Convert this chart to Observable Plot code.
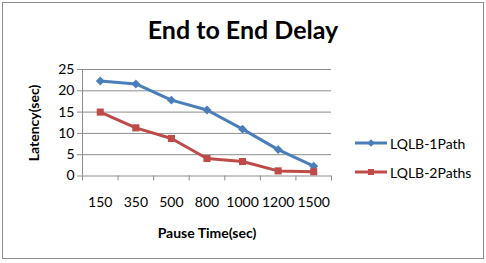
<!DOCTYPE html>
<html><head><meta charset="utf-8">
<script src="https://cdn.jsdelivr.net/npm/d3@7"></script>
<script src="https://cdn.jsdelivr.net/npm/@observablehq/plot@0.6"></script>
<style>
html,body{margin:0;padding:0;background:#fff;}
#wrap{position:relative;width:486px;height:263px;overflow:hidden;font-family:Lato,sans-serif;color:#000;}
#frame{position:absolute;left:2px;top:2px;width:480px;height:255px;border:1px solid #8c8c8c;pointer-events:none;}
.t{position:absolute;white-space:nowrap;}
#title{left:0;width:486px;top:14px;text-align:center;font-weight:bold;font-size:25px;}
#xt{left:156px;width:102px;top:224px;text-align:center;font-weight:bold;font-size:14px;}
#yt{left:33px;top:123px;transform:translate(-50%,-50%) rotate(-90deg);font-weight:bold;font-size:14px;}
.leg{position:absolute;left:355px;font-size:14px;display:flex;align-items:center;}
.leg svg{margin-right:3px;}
</style></head>
<body><div id="wrap"></div>
<script>
const categories = ["150","350","500","800","1000","1200","1500"];
const seriesNames = ["LQLB-1Path","LQLB-2Paths"];
const lqlb1Path = [22.3, 21.6, 17.8, 15.5, 11.0, 6.2, 2.3];
const lqlb2Paths = [15.0, 11.3, 8.8, 4.1, 3.4, 1.2, 1.0];
const yTicks = [0,5,10,15,20,25];
const colors = ["#4a7ebb","#be4b48"];
const symbols = ["diamond2","square"];

const data = categories.flatMap((c,i)=>[
  {i, c, v: lqlb1Path[i], s: seriesNames[0]},
  {i, c, v: lqlb2Paths[i], s: seriesNames[1]}
]);
const idx = categories.map((c,i)=>i);
const bounds = categories.map((c,i)=>i-0.5).concat([categories.length-0.5]);

const chart = Plot.plot({
  width: 486, height: 263,
  marginTop: 69, marginBottom: 87.5, marginLeft: 82, marginRight: 155,
  x: {type:"linear", domain:[-0.5, categories.length-0.5]},
  y: {domain:[0,25]},
  color: {domain: seriesNames, range: colors},
  symbol: {domain: seriesNames, range: symbols},
  style: {fontFamily:"Lato, sans-serif", fontSize:"14px", color:"#000", background:"transparent", overflow:"visible"},
  marks: [
    Plot.gridY(yTicks, {stroke:"#8c8c8c", strokeOpacity:1, x1:-0.5, x2: categories.length-0.5}),
    Plot.axisY(yTicks, {tickSize:5, tickPadding:3, label:null, stroke:"#8c8c8c", fill:"#000"}),
    Plot.ruleX([-0.5], {stroke:"#8c8c8c", y1:0, y2:25}),
    Plot.axisX(bounds, {tickSize:5, tickFormat:()=>"", label:null, stroke:"#8c8c8c"}),
    Plot.axisX(idx, {tickSize:0, tickPadding:21, tickFormat:i=>categories[i], label:null, fill:"#000"}),
    Plot.line(data, {x:"i", y:"v", z:"s", stroke:"s", strokeWidth:3}),
    Plot.dot(data, {x:"i", y:"v", fill:"s", symbol:"s", r:4, stroke:"none"})
  ]
});
const wrap = document.getElementById("wrap");
wrap.appendChild(chart);
chart.style.position="absolute"; chart.style.left="0"; chart.style.top="0";

function addText(id, txt){const d=document.createElement("div");d.id=id;d.className="t";d.textContent=txt;wrap.appendChild(d);}
addText("title","End to End Delay");
addText("xt","Pause Time(sec)");
addText("yt","Latency(sec)");

const legendY = [143, 172];
seriesNames.forEach((s,k)=>{
  const d=document.createElement("div");d.className="leg";
  d.style.top=(legendY[k]-10)+"px"; d.style.height="20px";
  const sw = d3.create("svg").attr("width",32).attr("height",10);
  sw.append("line").attr("x1",0).attr("x2",32).attr("y1",5).attr("y2",5).attr("stroke",colors[k]).attr("stroke-width",3);
  const sym = d3.symbol(k===0? d3.symbolDiamond2 : d3.symbolSquare, 36)();
  sw.append("path").attr("d",sym).attr("transform","translate(16,5)").attr("fill",colors[k]);
  d.appendChild(sw.node());
  const sp=document.createElement("span");sp.textContent=s;d.appendChild(sp);
  wrap.appendChild(d);
});
const fr=document.createElement("div");fr.id="frame";wrap.appendChild(fr);
</script></body></html>
